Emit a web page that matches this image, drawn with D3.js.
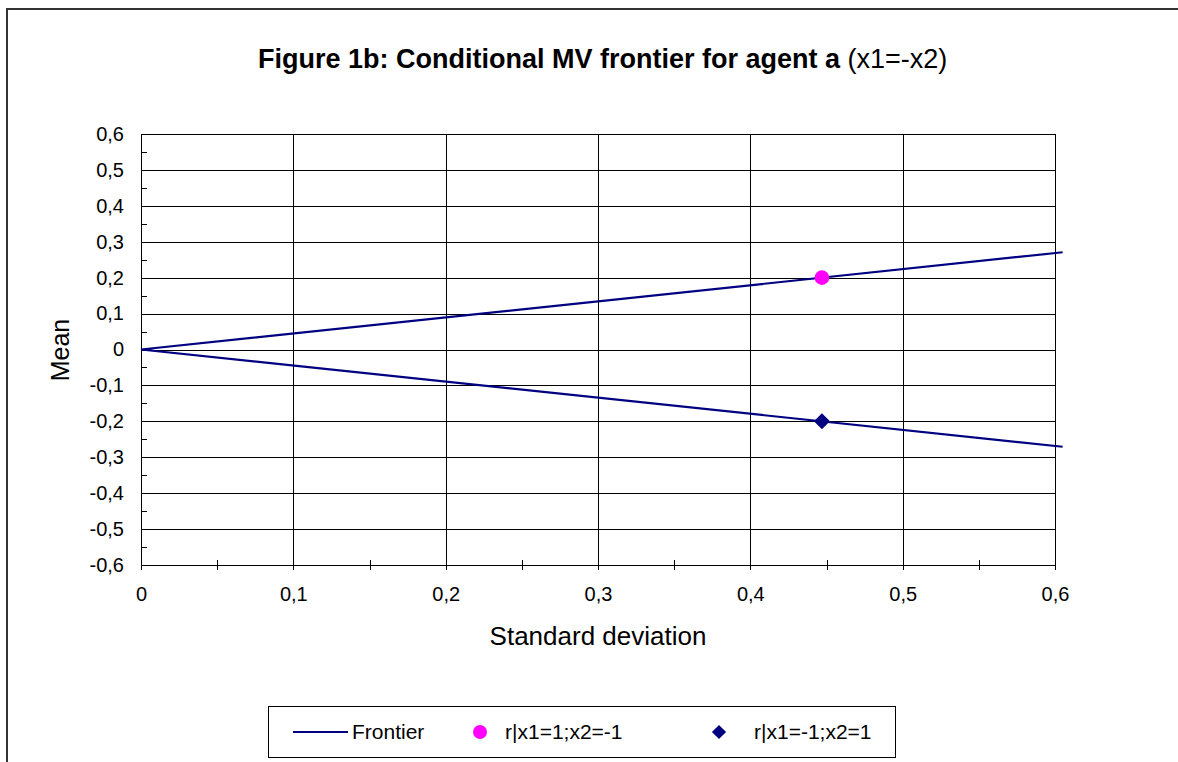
<!DOCTYPE html>
<html>
<head>
<meta charset="utf-8">
<script src="https://cdn.jsdelivr.net/npm/d3@7"></script>
<style>
  body { margin: 0; background: #fff; }
  svg { display: block; font-family: "Liberation Sans", Arial, sans-serif; }
</style>
</head>
<body>
<div class="mv-chart"></div>
<script>
// axis ticks
var xTicks = [0, 0.1, 0.2, 0.3, 0.4, 0.5, 0.6];
var yTicks = [-0.6, -0.5, -0.4, -0.3, -0.2, -0.1, 0, 0.1, 0.2, 0.3, 0.4, 0.5, 0.6];
var xMinor = [0.05, 0.15, 0.25, 0.35, 0.45, 0.55];
var yMinor = [-0.55, -0.45, -0.35, -0.25, -0.15, -0.05, 0.05, 0.15, 0.25, 0.35, 0.45, 0.55];

// frontier (upper branch, vertex, lower branch)
var frontierSd = [0.605, 0, 0.605];
var frontierMean = [0.2707, 0, -0.2707];

// the two conditional points
var pointNames = ["r|x1=1;x2=-1", "r|x1=-1;x2=1"];
var pointSd = [0.447, 0.447];
var pointMean = [0.2, -0.2];

var viewbox_width = 1178,
    viewbox_height = 762;
var plot = {left: 141, top: 134, right: 1055, bottom: 565};

var svg = d3.select(".mv-chart").append("svg")
    .attr("width", viewbox_width)
    .attr("height", viewbox_height);

var fmt = function(d) { return d === 0 ? "0" : d.toFixed(1).replace(".", ","); };

var x = d3.scaleLinear().domain([0, 0.6]).range([plot.left, plot.right]),
    y = d3.scaleLinear().domain([-0.6, 0.6]).range([plot.bottom, plot.top]);

// outer frame
svg.append("rect")
    .attr("x", 7).attr("y", 9)
    .attr("width", 1200).attr("height", 800)
    .attr("fill", "none").attr("stroke", "#333").attr("stroke-width", 2);

// grid
var grid = svg.append("g").attr("shape-rendering", "crispEdges");
grid.selectAll(".hgrid").data(yTicks).enter().append("line")
    .attr("x1", plot.left).attr("x2", plot.right)
    .attr("y1", function(d) { return Math.round(y(d)) + 0.5; })
    .attr("y2", function(d) { return Math.round(y(d)) + 0.5; })
    .attr("stroke", "#000");
grid.selectAll(".vgrid").data(xTicks).enter().append("line")
    .attr("y1", plot.top).attr("y2", plot.bottom)
    .attr("x1", function(d) { return Math.round(x(d)) + 0.5; })
    .attr("x2", function(d) { return Math.round(x(d)) + 0.5; })
    .attr("stroke", "#000");

// minor ticks
grid.selectAll(".ymin").data(yMinor).enter().append("line")
    .attr("x1", plot.left).attr("x2", plot.left + 6)
    .attr("y1", function(d) { return Math.round(y(d)) + 0.5; })
    .attr("y2", function(d) { return Math.round(y(d)) + 0.5; })
    .attr("stroke", "#000");
grid.selectAll(".xmin").data(xMinor).enter().append("line")
    .attr("y1", plot.bottom - 5).attr("y2", plot.bottom + 5)
    .attr("x1", function(d) { return Math.round(x(d)) + 0.5; })
    .attr("x2", function(d) { return Math.round(x(d)) + 0.5; })
    .attr("stroke", "#000");
grid.selectAll(".xmaj").data(xTicks).enter().append("line")
    .attr("y1", plot.bottom).attr("y2", plot.bottom + 5)
    .attr("x1", function(d) { return Math.round(x(d)) + 0.5; })
    .attr("x2", function(d) { return Math.round(x(d)) + 0.5; })
    .attr("stroke", "#000");

// axes labels via d3 axes
var yAxis = d3.axisLeft(y).tickValues(yTicks).tickFormat(fmt).tickSize(0).tickPadding(17);
var xAxis = d3.axisBottom(x).tickValues(xTicks).tickFormat(fmt).tickSize(0).tickPadding(22);

var yaxisg = svg.append("g")
    .attr("transform", "translate(" + plot.left + ",0)")
    .call(yAxis);
var xaxisg = svg.append("g")
    .attr("transform", "translate(0," + plot.bottom + ")")
    .call(xAxis);
[yaxisg, xaxisg].forEach(function(g) {
    g.select(".domain").remove();
    g.selectAll("text")
        .attr("fill", "#000")
        .style("font-size", "20px")
        .style("font-family", "'Liberation Sans', Arial, sans-serif");
});

// plot border
svg.append("rect")
    .attr("x", plot.left + 0.5).attr("y", plot.top + 0.5)
    .attr("width", plot.right - plot.left).attr("height", plot.bottom - plot.top)
    .attr("fill", "none").attr("stroke", "#000").attr("shape-rendering", "crispEdges");

// frontier line
var frontier = frontierSd.map(function(d, i) { return [d, frontierMean[i]]; });
svg.append("path")
    .datum(frontier)
    .attr("d", d3.line().x(function(d) { return x(d[0]); }).y(function(d) { return y(d[1]); }))
    .attr("fill", "none").attr("stroke", "#000080").attr("stroke-width", 2.2);

// points
svg.append("circle")
    .attr("cx", x(pointSd[0])).attr("cy", y(pointMean[0])).attr("r", 7.3)
    .attr("fill", "#ff00ff");
var diamond = d3.symbol().type(d3.symbolSquare).size(128);
svg.append("path")
    .attr("d", diamond)
    .attr("transform", "translate(" + x(pointSd[1]) + "," + y(pointMean[1]) + ") rotate(45)")
    .attr("fill", "#000080");

// title
var title = svg.append("text")
    .attr("x", 258).attr("y", 68)
    .style("font-size", "27px");
title.append("tspan").attr("font-weight", "bold").text("Figure 1b: Conditional MV frontier for agent a");
title.append("tspan").text(" (x1=-x2)");

// axis titles
svg.append("text")
    .attr("x", 598).attr("y", 645)
    .attr("text-anchor", "middle")
    .style("font-size", "26px")
    .text("Standard deviation");
svg.append("text")
    .attr("transform", "translate(69,350) rotate(-90)")
    .attr("text-anchor", "middle")
    .style("font-size", "25px")
    .text("Mean");

// legend
var legend = svg.append("g").attr("class", "legend");
legend.append("rect")
    .attr("x", 268.5).attr("y", 706.5).attr("width", 627).attr("height", 51)
    .attr("fill", "#fff").attr("stroke", "#000").attr("shape-rendering", "crispEdges");
var ly = 732;
legend.append("line")
    .attr("x1", 293).attr("x2", 348).attr("y1", ly).attr("y2", ly)
    .attr("stroke", "#000080").attr("stroke-width", 2.2);
legend.append("circle").attr("cx", 480).attr("cy", ly).attr("r", 7).attr("fill", "#ff00ff");
legend.append("path")
    .attr("d", d3.symbol().type(d3.symbolSquare).size(100))
    .attr("transform", "translate(719," + ly + ") rotate(45)")
    .attr("fill", "#000080");
var legendText = ["Frontier"].concat(pointNames),
    legendX = [352, 505, 754];
legend.selectAll(".lt").data(legendText).enter().append("text")
    .attr("x", function(d, i) { return legendX[i]; })
    .attr("y", ly + 7)
    .style("font-size", "21px")
    .text(function(d) { return d; });
</script>
</body>
</html>
